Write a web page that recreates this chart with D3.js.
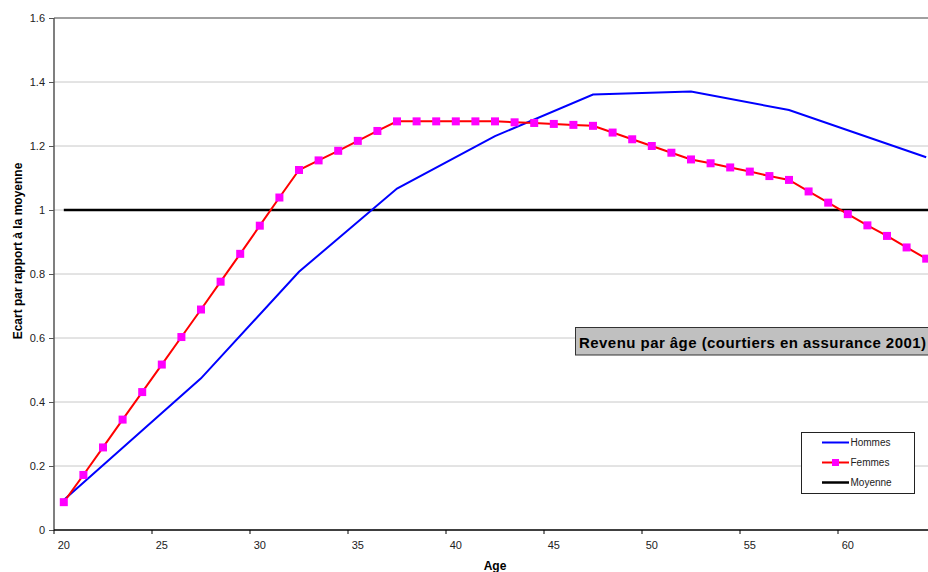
<!DOCTYPE html>
<html>
<head>
<meta charset="utf-8">
<script src="https://cdn.jsdelivr.net/npm/d3@7"></script>
<style>
  body { margin: 0; background: #fff; }
  svg { display: block; font-family: "Liberation Sans", Arial, sans-serif; }
</style>
</head>
<body>
<svg width="928" height="572"></svg>
<script>
// x categories (ages) shown on the axis
var ages = [20, 21, 22, 23, 24, 25, 26, 27, 28, 29, 30, 31, 32, 33, 34, 35, 36, 37, 38, 39, 40,
  41, 42, 43, 44, 45, 46, 47, 48, 49, 50, 51, 52, 53, 54, 55, 56, 57, 58, 59, 60, 61, 62, 63, 64, 65];
var ageTicks = [20, 25, 30, 35, 40, 45, 50, 55, 60];
var yTicks = [0, 0.2, 0.4, 0.6, 0.8, 1, 1.2, 1.4, 1.6];

// Femmes: one point per year
var femmesAges = [20, 21, 22, 23, 24, 25, 26, 27, 28, 29, 30, 31, 32, 33, 34, 35, 36, 37, 38, 39, 40,
  41, 42, 43, 44, 45, 46, 47, 48, 49, 50, 51, 52, 53, 54, 55, 56, 57, 58, 59, 60, 61, 62, 63, 64];
var femmes = [0.087, 0.172, 0.258, 0.345, 0.431, 0.517, 0.603, 0.689, 0.776, 0.863, 0.951, 1.039,
  1.125, 1.155, 1.185, 1.216, 1.247, 1.277, 1.277, 1.277, 1.277, 1.277, 1.277, 1.274, 1.272, 1.269,
  1.266, 1.263, 1.242, 1.221, 1.200, 1.179, 1.158, 1.146, 1.133, 1.120, 1.106, 1.094, 1.058, 1.023,
  0.987, 0.952, 0.919, 0.883, 0.848];

// Hommes: five-year steps
var hommesAges = [20, 27, 32, 37, 42, 47, 52, 57, 64];
var hommes = [0.094, 0.474, 0.807, 1.067, 1.231, 1.361, 1.370, 1.3125, 1.165];

// Moyenne
var moyenneAges = [20, 65];
var moyenne = [1, 1];

var svg = d3.select("svg");
var plotLeft = 54, plotTop = 18, plotBottom = 530;

var x = d3.scaleBand()
  .domain(ages)
  .range([plotLeft, plotLeft + ages.length * 19.6])
  .padding(0);
var bw = x.bandwidth();
function cx(a) { return x(a) + bw / 2; }

var y = d3.scaleLinear()
  .domain([0, 1.6])
  .range([plotBottom, plotTop]);

// gridlines
svg.append('g').selectAll('line').data(yTicks.slice(1)).enter()
  .append('line')
  .attr('x1', plotLeft).attr('x2', 960)
  .attr('y1', function(d) { return y(d); })
  .attr('y2', function(d) { return y(d); })
  .attr('stroke', function(d) { return d == 1.6 ? '#808080' : '#c8c8c8'; })
  .attr('stroke-width', function(d) { return d == 1.6 ? 1.5 : 1; });

var line = d3.line()
  .x(function(d) { return cx(d[0]); })
  .y(function(d) { return y(d[1]); });

svg.append('path')
  .datum(d3.zip(moyenneAges, moyenne))
  .attr('d', line)
  .attr('fill', 'none')
  .attr('stroke', '#000')
  .attr('stroke-width', 2.5);

svg.append('path')
  .datum(d3.zip(hommesAges, hommes))
  .attr('d', line)
  .attr('fill', 'none')
  .attr('stroke', '#0000ff')
  .attr('stroke-width', 2);

svg.append('path')
  .datum(d3.zip(femmesAges, femmes))
  .attr('d', line)
  .attr('fill', 'none')
  .attr('stroke', '#ff0000')
  .attr('stroke-width', 2);

svg.append('g').selectAll('rect').data(d3.zip(femmesAges, femmes)).enter()
  .append('rect')
  .attr('x', function(d) { return cx(d[0]) - 4; })
  .attr('y', function(d) { return y(d[1]) - 4; })
  .attr('width', 8)
  .attr('height', 8)
  .attr('fill', '#ff00ff');

// axes
var axisLeft = d3.axisLeft(y)
  .tickValues(yTicks)
  .tickSize(5)
  .tickPadding(4)
  .tickFormat(function(d) { return String(d); });
var gy = svg.append('g').attr('transform', 'translate(' + plotLeft + ',0)').call(axisLeft);
gy.select('.domain').attr('stroke', '#555').attr('stroke-width', 1.5).attr('d', 'M0,' + plotTop + 'V' + plotBottom);
gy.selectAll('.tick line').attr('stroke', '#555');
gy.selectAll('text').attr('font-size', '11px').attr('fill', '#222').attr('font-family', null);

var axisBottom = d3.axisBottom(x)
  .tickValues(ageTicks)
  .tickSize(4)
  .tickPadding(7);
var gx = svg.append('g').attr('transform', 'translate(0,' + plotBottom + ')').call(axisBottom);
gx.select('.domain').attr('stroke', '#000').attr('stroke-width', 1.5).attr('d', 'M' + plotLeft + ',0H960');
gx.selectAll('.tick line').attr('stroke', '#000').attr('transform', 'translate(' + (-bw / 2) + ',0)');
gx.selectAll('text').attr('font-size', '11px').attr('fill', '#222').attr('font-family', null);

svg.append('text')
  .attr('x', 495)
  .attr('y', 570)
  .attr('text-anchor', 'middle')
  .attr('font-size', '12px')
  .attr('font-weight', 'bold')
  .text('Age');

svg.append('text')
  .attr('transform', 'translate(22,251) rotate(-90)')
  .attr('text-anchor', 'middle')
  .attr('font-size', '12px')
  .attr('font-weight', 'bold')
  .text('Ecart par rapport à la moyenne');

// title box
svg.append('rect')
  .attr('x', 575.5).attr('y', 327.5)
  .attr('width', 360).attr('height', 27.5)
  .attr('fill', '#c0c0c0')
  .attr('stroke', '#333')
  .attr('stroke-width', 1);
svg.append('text')
  .attr('x', 579)
  .attr('y', 347.5)
  .attr('font-size', '15px')
  .attr('font-weight', 'bold')
  .attr('fill', '#000')
  .attr('textLength', 347)
  .attr('lengthAdjust', 'spacing')
  .text('Revenu par âge (courtiers en assurance 2001)');

// legend
var legend = svg.append('g');
legend.append('rect')
  .attr('x', 801.5).attr('y', 432.5)
  .attr('width', 113).attr('height', 61)
  .attr('fill', '#fff')
  .attr('stroke', '#222');
var legendItems = [
  { name: 'Hommes', color: '#0000ff', marker: false, w: 2 },
  { name: 'Femmes', color: '#ff0000', marker: true, w: 2 },
  { name: 'Moyenne', color: '#000', marker: false, w: 2.5 }
];
legendItems.forEach(function(d, i) {
  var ly = 442.5 + i * 20;
  legend.append('line')
    .attr('x1', 822).attr('x2', 849)
    .attr('y1', ly).attr('y2', ly)
    .attr('stroke', d.color)
    .attr('stroke-width', d.w);
  if (d.marker) {
    legend.append('rect')
      .attr('x', 832).attr('y', ly - 3.5)
      .attr('width', 7).attr('height', 7)
      .attr('fill', '#ff00ff');
  }
  legend.append('text')
    .attr('x', 850.5)
    .attr('y', ly + 3.5)
    .attr('font-size', '10px')
    .attr('fill', '#222')
    .text(d.name);
});
</script>
</body>
</html>
